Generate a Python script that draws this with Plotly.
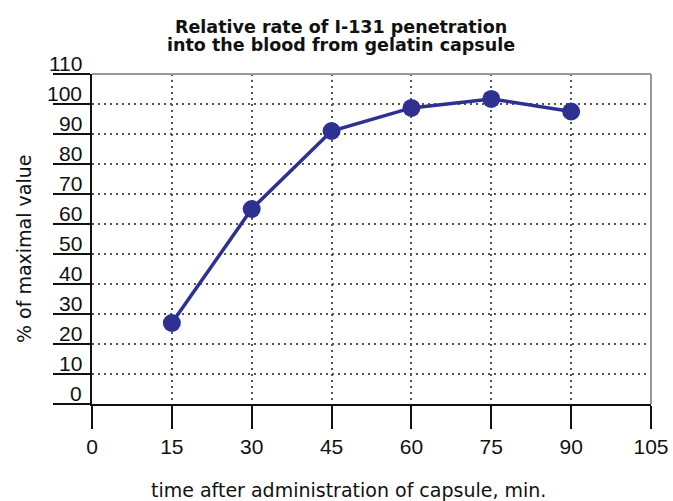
import plotly.graph_objects as go

# Data
time_min = [15, 30, 45, 60, 75, 90]
pct_max = [27, 65, 91, 98.7, 101.7, 97.5]
x_ticks = [0, 15, 30, 45, 60, 75, 90, 105]
x_tick_labels = [str(v) for v in x_ticks]
y_ticks = [0, 10, 20, 30, 40, 50, 60, 70, 80, 90, 100, 110]
y_tick_labels = [str(v) for v in y_ticks]

title_lines = ["Relative rate of I-131 penetration", "into the blood from gelatin capsule"]
x_title = "time after administration of capsule, min."
y_title = "% of maximal value"

LINE_COLOR = "#2e3192"
FONT = "Liberation Sans, Arial, sans-serif"
WIDE = "DejaVu Sans, sans-serif"

fig = go.Figure()
fig.add_trace(go.Scatter(
    x=time_min, y=pct_max, mode="lines+markers",
    line=dict(color=LINE_COLOR, width=3.5),
    marker=dict(color=LINE_COLOR, size=18),
    showlegend=False, cliponaxis=False,
))

grid_kw = dict(showgrid=True, gridcolor="#555555", griddash="2px,4px", gridwidth=1.5)

fig.update_xaxes(
    range=[0, 105], tickvals=x_ticks, ticktext=x_tick_labels,
    ticks="outside", ticklen=23, tickwidth=2, tickcolor="#111111",
    showline=True, linecolor="#111111", linewidth=2,
    tickfont=dict(family=FONT, size=21, color="#111111"),
    zeroline=False, **grid_kw,
)
fig.update_yaxes(
    range=[0, 110], tickvals=y_ticks, showticklabels=False,
    ticks="outside", ticklen=37, tickwidth=2, tickcolor="#111111",
    showline=True, linecolor="#111111", linewidth=2,
    zeroline=False, **grid_kw,
)

annotations = []
for v, lab in zip(y_ticks, y_tick_labels):
    annotations.append(dict(
        x=0, xref="paper", y=v, yref="y", text=lab, showarrow=False,
        xanchor="right", yanchor="bottom", xshift=-8, yshift=-3,
        font=dict(family=FONT, size=21, color="#111111"),
    ))
annotations.append(dict(
    x=0.4597, xref="paper", y=-0.2606, yref="paper", text=x_title, showarrow=False,
    xanchor="center", yanchor="middle",
    font=dict(family=WIDE, size=19, color="#111111"),
))
annotations.append(dict(
    x=-0.1216, xref="paper", y=0.4697, yref="paper", text=y_title, showarrow=False,
    textangle=-90, xanchor="center", yanchor="middle",
    font=dict(family=WIDE, size=19, color="#111111"),
))
for line, ypos in zip(title_lines, [1.142, 1.087]):
    annotations.append(dict(
        x=0.446, xref="paper", y=ypos, yref="paper", text="<b>" + line + "</b>",
        showarrow=False, xanchor="center", yanchor="middle",
        font=dict(family=WIDE, size=17.5, color="#111111"),
    ))

fig.update_layout(
    width=673, height=501,
    margin=dict(l=92, r=22, t=74, b=97, autoexpand=False),
    paper_bgcolor="white", plot_bgcolor="white",
    annotations=annotations,
    shapes=[
        dict(type="line", xref="paper", yref="paper", x0=0, x1=1, y0=1, y1=1,
             line=dict(color="#999999", width=2)),
        dict(type="line", xref="paper", yref="paper", x0=1, x1=1, y0=0, y1=1,
             line=dict(color="#999999", width=2)),
    ],
)

fig.write_html(
    "out.html",
    config={"displayModeBar": False},
    post_script="document.body.style.margin='0';document.body.style.overflow='hidden';",
)
